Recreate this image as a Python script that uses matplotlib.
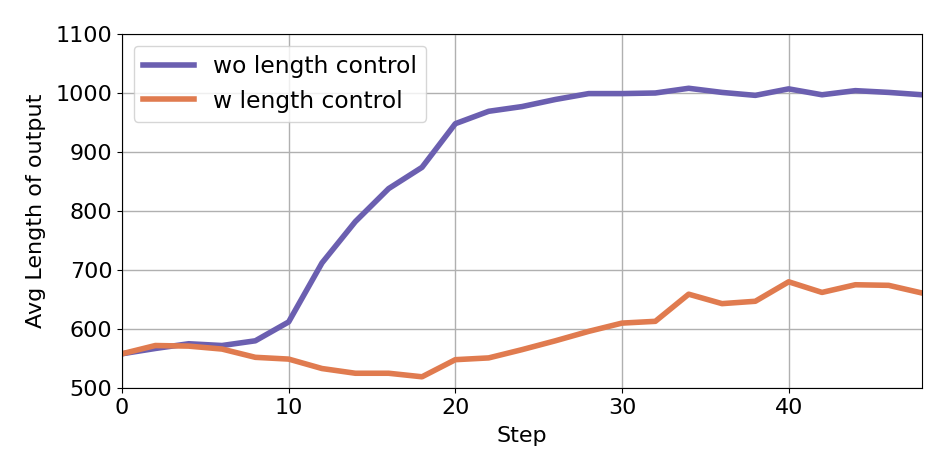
import numpy as np
import matplotlib
matplotlib.use("Agg")
import matplotlib.pyplot as plt

# datos
steps = list(range(0, 50, 2))
wo_control = [558, 567, 575, 572, 580, 612, 712, 782, 838, 874, 948, 969, 977,
              989, 999, 999, 1000, 1008, 1001, 996, 1007, 997, 1004, 1001, 997]
w_control = [558, 572, 571, 566, 552, 549, 533, 525, 525, 519, 548, 551, 565,
             580, 596, 610, 613, 659, 643, 647, 680, 662, 675, 674, 661]

fig = plt.figure(figsize=(9.47, 4.73), dpi=100)
ax = fig.add_axes([122 / 947, 1 - 388 / 473, 800 / 947, 354 / 473])

ax.plot(steps, wo_control, color="#6b5fb0", linewidth=4, label="wo length control")
ax.plot(steps, w_control, color="#e07b4f", linewidth=4, label="w length control")

ax.set_xlim(0, 48)
ax.set_ylim(500, 1100)
ax.set_xticks([0, 10, 20, 30, 40])
ax.set_yticks(range(500, 1101, 100))
ax.tick_params(labelsize=16)
ax.grid(True, color="#b0b0b0", linewidth=1)
ax.set_xlabel("Step", fontsize=16, labelpad=6)
ax.set_ylabel("Avg Length of output", fontsize=16, labelpad=7)
ax.legend(loc="upper left", fontsize=16.8, handlelength=2.2)

fig.savefig("out.png", dpi=100)
